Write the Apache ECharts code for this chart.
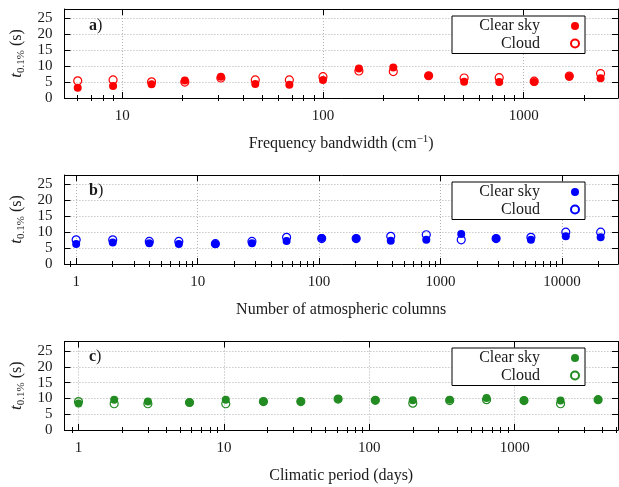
<!DOCTYPE html>
<html><head><meta charset="utf-8">
<script src="https://cdn.jsdelivr.net/npm/echarts@6/dist/echarts.min.js"></script>
<style>html,body{margin:0;padding:0;background:#fff}#c{width:619px;height:487px}</style>
</head><body><div id="c"></div>
<script>
// ---- data ----
const bandwidth = [6, 9, 14, 20.5, 31, 46, 68, 100, 151, 224, 336, 505, 755, 1128, 1687, 2415];
const bandwidthClear = [3.2, 3.8, 4.3, 5.5, 6.7, 4.4, 4.2, 5.7, 9.3, 9.6, 7.0, 5.1, 5.0, 5.0, 6.7, 6.2];
const bandwidthCloud = [5.4, 5.7, 5.1, 5.0, 6.3, 5.7, 5.7, 6.7, 8.5, 8.3, 7.0, 6.3, 6.4, 5.3, 6.9, 7.7];

const columns = [1, 2, 4, 7, 14, 28, 54, 105, 202, 389, 763, 1480, 2867, 5545, 10740, 20800];
const columnsClear = [6.3, 6.8, 6.5, 6.3, 6.3, 6.5, 7.2, 8.2, 8.0, 7.3, 7.6, 9.4, 8.0, 7.6, 8.7, 8.4];
const columnsCloud = [7.6, 7.6, 7.1, 7.1, 6.4, 7.1, 8.4, 8.0, 8.0, 8.7, 9.2, 7.6, 8.0, 8.4, 10.0, 10.0];

const period = [1, 1.76, 3.0, 5.8, 10.3, 18.7, 33.8, 61, 110, 199, 357, 640, 1158, 2066, 3744];
const periodClear = [8.4, 9.6, 9.0, 8.7, 9.6, 9.0, 9.0, 9.8, 9.4, 9.4, 9.6, 10.1, 9.3, 9.3, 9.6];
const periodCloud = [9.0, 8.3, 8.3, 8.7, 8.3, 9.0, 9.0, 9.8, 9.4, 8.5, 9.3, 9.6, 9.3, 8.3, 9.6];

const yTicks = [0, 5, 10, 15, 20, 25];
const majorA = [10, 100, 1000];
const minorA = [6, 7, 8, 9, 20, 30, 40, 50, 60, 70, 80, 90, 200, 300, 400, 500, 600, 700, 800, 900, 2000];
const majorB = [1, 10, 100, 1000, 10000];
const minorB = [0.9, 2, 3, 4, 5, 6, 7, 8, 9, 20, 30, 40, 50, 60, 70, 80, 90, 200, 300, 400, 500, 600, 700, 800, 900,
  2000, 3000, 4000, 5000, 6000, 7000, 8000, 9000, 20000];
const majorC = [1, 10, 100, 1000];
const minorC = [0.9, 2, 3, 4, 5, 6, 7, 8, 9, 20, 30, 40, 50, 60, 70, 80, 90, 200, 300, 400, 500, 600, 700, 800, 900,
  2000, 3000, 4000, 5000];

const labelClear = 'Clear sky', labelCloud = 'Cloud';

// ---- layout / style ----
const FONT = 'Liberation Serif';
const panels = [
  {id: 'a', x: bandwidth, clear: bandwidthClear, cloud: bandwidthCloud, color: '#ff0000', min: 5.15, max: 2950,
   major: majorA, minor: minorA, top: 9, height: 89, legendTop: 16, labelY: 27,
   name: '{n|Frequency bandwidth (cm}{s|\u22121}{n|)}'},
  {id: 'b', x: columns, clear: columnsClear, cloud: columnsCloud, color: '#0000ff', min: 0.8, max: 28900,
   major: majorB, minor: minorB, top: 175, height: 89, legendTop: 182, labelY: 192,
   name: '{n|Number of atmospheric columns}'},
  {id: 'c', x: period, clear: periodClear, cloud: periodCloud, color: '#228b22', min: 0.8, max: 5130,
   major: majorC, minor: minorC, top: 341.5, height: 88.5, legendTop: 348, labelY: 358,
   name: '{n|Climatic period (days)}'}
];

const grid = [], xAxis = [], yAxis = [], series = [], legend = [], graphicEls = [];
const dotted = {show: true, lineStyle: {color: '#b0b0b0', width: 1, type: [1, 2]}};
const axisLineBlack = {show: true, onZero: false, lineStyle: {color: '#000', width: 1}};
const tickFont = {fontFamily: FONT, fontSize: 15, color: '#1a1a1a'};

panels.forEach((p, i) => {
  grid.push({left: 62, right: 1, top: p.top, height: p.height, containLabel: false});
  const base = {type: 'log', logBase: 10, min: p.min, max: p.max, gridIndex: i};
  const xi = xAxis.length;
  // bottom major
  xAxis.push(Object.assign({}, base, {
    position: 'bottom', axisLine: axisLineBlack,
    axisTick: {show: true, inside: true, length: 6, customValues: p.major, lineStyle: {color: '#000'}},
    axisLabel: Object.assign({show: true, margin: 11, customValues: p.major,
      formatter: v => String(Math.round(v))}, tickFont),
    splitLine: dotted,
    name: p.name, nameLocation: 'middle', nameGap: 36,
    nameTextStyle: {rich: {
      n: {fontFamily: FONT, fontSize: 16, color: '#1a1a1a', lineHeight: 20},
      s: {fontFamily: FONT, fontSize: 11, color: '#1a1a1a', lineHeight: 13, verticalAlign: 'top'}
    }}
  }));
  // bottom minor
  xAxis.push(Object.assign({}, base, {
    position: 'bottom', axisLine: {show: false},
    axisTick: {show: true, inside: true, length: 3, customValues: p.minor, lineStyle: {color: '#000'}},
    axisLabel: {show: false}, splitLine: {show: false}
  }));
  // top major
  xAxis.push(Object.assign({}, base, {
    position: 'top', axisLine: axisLineBlack,
    axisTick: {show: true, inside: true, length: 6, customValues: p.major, lineStyle: {color: '#000'}},
    axisLabel: {show: false}, splitLine: {show: false}
  }));
  // top minor
  xAxis.push(Object.assign({}, base, {
    position: 'top', axisLine: {show: false},
    axisTick: {show: true, inside: true, length: 3, customValues: p.minor, lineStyle: {color: '#000'}},
    axisLabel: {show: false}, splitLine: {show: false}
  }));
  const yi = yAxis.length;
  yAxis.push({
    type: 'value', gridIndex: i, min: 0, max: 28, position: 'left',
    axisLine: axisLineBlack,
    axisTick: {show: true, inside: true, length: 6, customValues: yTicks, lineStyle: {color: '#000'}},
    axisLabel: Object.assign({show: true, margin: 12, customValues: yTicks}, tickFont),
    splitLine: dotted,
    name: '{t|t}{s|0.1%}{n| (s)}', nameLocation: 'middle', nameGap: 32, nameRotate: 90,
    nameTextStyle: {rich: {
      t: {fontFamily: FONT, fontSize: 17, fontStyle: 'italic', color: '#1a1a1a', lineHeight: 20},
      s: {fontFamily: FONT, fontSize: 11, color: '#1a1a1a', lineHeight: 12, verticalAlign: 'bottom'},
      n: {fontFamily: FONT, fontSize: 16, color: '#1a1a1a', lineHeight: 20}
    }}
  });
  yAxis.push({
    type: 'value', gridIndex: i, min: 0, max: 28, position: 'right',
    axisLine: axisLineBlack,
    axisTick: {show: true, inside: true, length: 6, customValues: yTicks, lineStyle: {color: '#000'}},
    axisLabel: {show: false}, splitLine: {show: false}
  });
  const nClear = p.id + ':' + labelClear, nCloud = p.id + ':' + labelCloud;
  series.push({
    type: 'scatter', name: nCloud, xAxisIndex: xi, yAxisIndex: yi,
    data: p.x.map((v, k) => [v, p.cloud[k]]),
    symbol: 'circle', symbolSize: 8,
    itemStyle: {color: 'rgba(255,255,255,0)', borderColor: p.color, borderWidth: 1.2, opacity: 1},
    emphasis: {disabled: true},
    z: 3
  });
  series.push({
    type: 'scatter', name: nClear, xAxisIndex: xi, yAxisIndex: yi,
    data: p.x.map((v, k) => [v, p.clear[k]]),
    symbol: 'circle', symbolSize: 8,
    itemStyle: {color: p.color, opacity: 1},
    emphasis: {disabled: true},
    z: 4
  });
  legend.push({
    data: [nClear, nCloud], orient: 'vertical', left: 452, top: p.legendTop,
    align: 'right', itemWidth: 60, itemHeight: 8, itemGap: 1.5,
    padding: [2, 5, 2, 10], borderColor: '#000', borderWidth: 1, borderRadius: 0,
    backgroundColor: '#fff', selectedMode: false,
    formatter: name => '{t|' + name.split(':')[1] + '}',
    textStyle: {rich: {t: {fontFamily: FONT, fontSize: 16, color: '#1a1a1a', width: 78, align: 'right', lineHeight: 16}}}
  });
  graphicEls.push({
    type: 'text', left: 89, top: p.labelY - 9, z: 10,
    style: {
      text: '{b|' + p.id + '}{n|)}',
      rich: {
        b: {fontFamily: FONT, fontSize: 16, fontWeight: 'bold', fill: '#1a1a1a'},
        n: {fontFamily: FONT, fontSize: 16, fill: '#1a1a1a'}
      }
    }
  });
});

const chart = echarts.init(document.getElementById('c'), null, {renderer: 'canvas'});
chart.setOption({
  animation: false, backgroundColor: '#fff',
  grid, xAxis, yAxis, series, legend,
  graphic: {elements: graphicEls}
});
</script></body></html>
